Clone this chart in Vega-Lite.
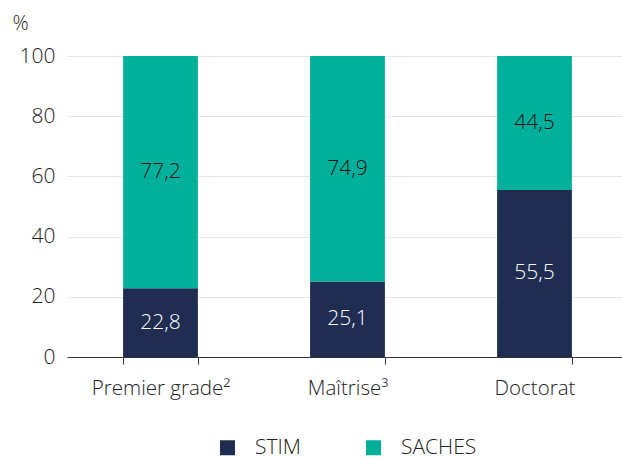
{
  "$schema": "https://vega.github.io/schema/vega-lite/v6.json",
  "autosize": "none",
  "padding": {"left": 67, "top": 56, "right": 0, "bottom": 102},
  "width": 561,
  "height": 301,
  "background": "white",
  "config": {"view": {"stroke": null}, "font": "Open Sans"},
  "data": {"values": [
    {"niveau": "Premier grade²", "groupe": "STIM", "ordre": 1, "valeur": 22.8, "label": "22,8"},
    {"niveau": "Premier grade²", "groupe": "SACHES", "ordre": 2, "valeur": 77.2, "label": "77,2"},
    {"niveau": "Maîtrise³", "groupe": "STIM", "ordre": 1, "valeur": 25.1, "label": "25,1"},
    {"niveau": "Maîtrise³", "groupe": "SACHES", "ordre": 2, "valeur": 74.9, "label": "74,9"},
    {"niveau": "Doctorat", "groupe": "STIM", "ordre": 1, "valeur": 55.5, "label": "55,5"},
    {"niveau": "Doctorat", "groupe": "SACHES", "ordre": 2, "valeur": 44.5, "label": "44,5"}
  ]},
  "transform": [
    {"stack": "valeur", "groupby": ["niveau"], "sort": [{"field": "ordre"}], "as": ["y0", "y1"]},
    {"calculate": "(datum.y0 + datum.y1) / 2", "as": "ymid"}
  ],
  "encoding": {
    "x": {
      "field": "niveau", "type": "nominal", "sort": ["Premier grade²", "Maîtrise³", "Doctorat"],
      "scale": {"paddingInner": 0.6, "paddingOuter": 0.3},
      "axis": {
        "title": null, "labelAngle": 0, "labelFontSize": 20.5, "labelFontWeight": 300, "labelColor": "#222222",
        "labelPadding": 14, "domainColor": "#333333", "tickColor": "#333333",
        "tickBand": "extent", "tickSize": 7, "grid": false
      }
    }
  },
  "layer": [
    {
      "mark": {"type": "bar"},
      "encoding": {
        "y": {
          "field": "y0", "type": "quantitative", "scale": {"domain": [0, 100]},
          "axis": {
            "values": [0, 20, 40, 60, 80, 100], "title": "%", "titleAngle": 0,
            "titleAlign": "left", "titleBaseline": "alphabetic", "titleX": -55, "titleY": -27,
            "titleFontSize": 20, "titleFontWeight": 300, "titleColor": "#222222",
            "labelFontSize": 21, "labelFontWeight": 300, "labelColor": "#222222", "labelPadding": 12,
            "domain": false, "ticks": false, "gridColor": "#e6e6e6", "gridWidth": 1
          }
        },
        "y2": {"field": "y1"},
        "color": {
          "field": "groupe", "type": "nominal",
          "scale": {"domain": ["STIM", "SACHES"], "range": ["#1e2d51", "#00b09b"]},
          "legend": {
            "title": null, "orient": "none", "direction": "horizontal",
            "legendX": 150, "legendY": 381, "symbolType": "square", "symbolSize": 225,
            "symbolStrokeWidth": 0, "labelFontSize": 21, "labelFontWeight": 300, "labelColor": "#222222",
            "labelOffset": 17, "columnPadding": 62
          }
        }
      }
    },
    {
      "mark": {"type": "text", "fontSize": 21, "fontWeight": 300, "baseline": "middle"},
      "encoding": {
        "y": {"field": "ymid", "type": "quantitative"},
        "text": {"field": "label"},
        "color": {
          "field": "groupe", "type": "nominal",
          "scale": {"domain": ["STIM", "SACHES"], "range": ["#ffffff", "#111111"]},
          "legend": null
        }
      }
    }
  ],
  "resolve": {"scale": {"color": "independent"}}
}
